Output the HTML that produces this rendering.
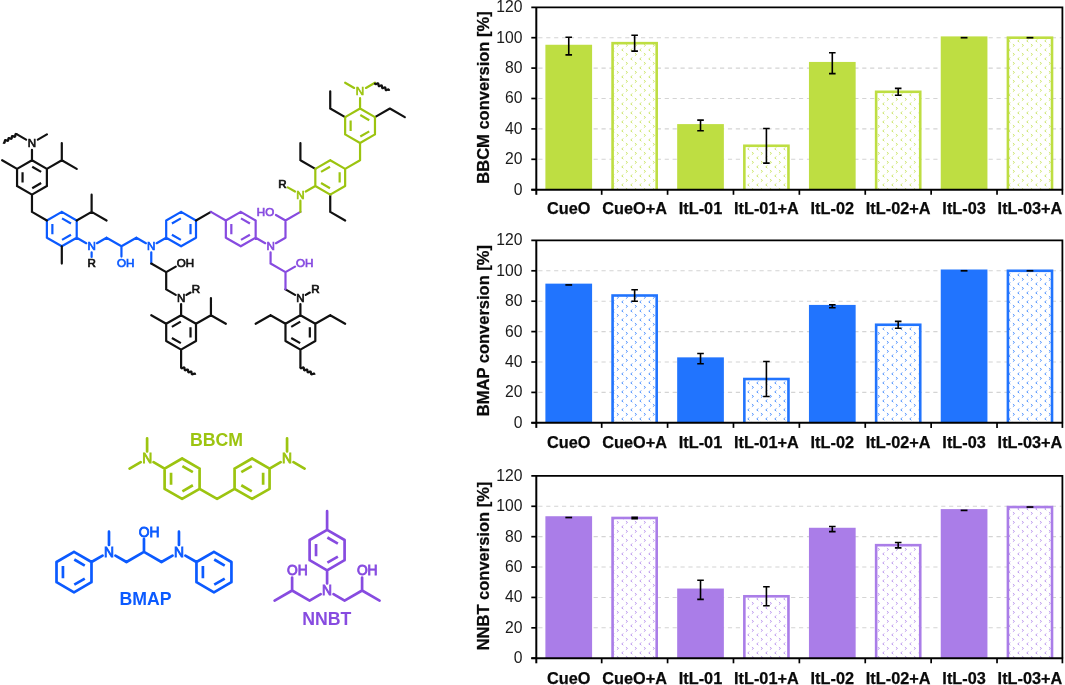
<!DOCTYPE html><html><head><meta charset="utf-8"><style>html,body{margin:0;padding:0;background:#fff}svg{display:block;will-change:transform;font-family:"Liberation Sans",sans-serif}</style></head><body>
<svg width="1065" height="685" viewBox="0 0 1065 685">
<defs><pattern id="pat1" width="9.00" height="9.00" patternUnits="userSpaceOnUse"><rect width="9.00" height="9.00" fill="#fff"/><path d="M2.36 3.60L0.76 4.90L2.36 6.20M11.36 3.60L9.76 4.90L11.36 6.20M4.90 -0.90L6.50 0.40L4.90 1.70M4.90 8.10L6.50 9.40L4.90 10.70" fill="none" stroke="#bede42" stroke-width="0.95" opacity="0.78"/></pattern><pattern id="pat2" width="9.00" height="9.00" patternUnits="userSpaceOnUse"><rect width="9.00" height="9.00" fill="#fff"/><path d="M2.36 3.60L0.76 4.90L2.36 6.20M11.36 3.60L9.76 4.90L11.36 6.20M4.90 -0.90L6.50 0.40L4.90 1.70M4.90 8.10L6.50 9.40L4.90 10.70" fill="none" stroke="#2174fe" stroke-width="0.95" opacity="0.78"/></pattern><pattern id="pat3" width="9.00" height="9.00" patternUnits="userSpaceOnUse"><rect width="9.00" height="9.00" fill="#fff"/><path d="M2.36 3.60L0.76 4.90L2.36 6.20M11.36 3.60L9.76 4.90L11.36 6.20M4.90 -0.90L6.50 0.40L4.90 1.70M4.90 8.10L6.50 9.40L4.90 10.70" fill="none" stroke="#aa7de8" stroke-width="0.95" opacity="0.78"/></pattern></defs>
<rect width="1065" height="685" fill="#fff"/>
<g stroke-width="2.20" stroke-linecap="butt" fill="none">
<path stroke="#0b5aff" stroke-linecap="round" d="M181.10 211.88L196.01 220.49M196.01 220.49L196.01 237.71M196.01 237.71L181.10 246.32M181.10 246.32L166.19 237.71M166.19 237.71L166.19 220.49M166.19 220.49L181.10 211.88M166.19 237.71L156.64 243.22M145.90 243.22L136.36 237.71M136.36 237.71L121.45 246.32M121.45 246.32L106.54 237.71M106.54 237.71L96.99 243.22M121.45 246.32L121.45 256.54M86.25 243.22L76.71 237.71M61.80 211.88L76.71 220.49M76.71 220.49L76.71 237.71M76.71 237.71L61.80 246.32M61.80 246.32L46.88 237.71M46.88 237.71L46.88 220.49M46.88 220.49L61.80 211.88M91.62 252.32L91.62 256.94M151.27 252.32L151.27 263.54"/>
<path stroke="#111111" stroke-linecap="round" d="M61.80 246.32L61.80 263.54M76.71 220.49L91.62 211.88M91.62 211.88L91.62 194.66M91.62 211.88L106.54 220.49M46.88 220.49L31.97 211.88M31.97 211.88L31.97 194.66M31.97 160.22L46.88 168.83M46.88 168.83L46.88 186.05M46.88 186.05L31.97 194.66M31.97 194.66L17.06 186.05M17.06 186.05L17.06 168.83M17.06 168.83L31.97 160.22M17.06 168.83L2.14 160.22M46.88 168.83L61.80 160.22M61.80 160.22L61.80 143.00M61.80 160.22L76.71 168.83M31.97 160.22L31.97 149.80M37.86 139.60L46.88 134.39M26.08 139.60L17.06 134.39M151.27 263.54L166.19 272.15M166.19 272.15L175.73 266.64M166.19 272.15L166.19 289.37M166.19 289.37L175.73 294.88M186.47 294.88L190.47 292.57M181.10 303.98L181.10 315.20M181.10 315.20L196.01 323.81M196.01 323.81L196.01 341.03M196.01 341.03L181.10 349.64M181.10 349.64L166.19 341.03M166.19 341.03L166.19 323.81M166.19 323.81L181.10 315.20M166.19 323.81L151.27 315.20M196.01 323.81L210.93 315.20M210.93 315.20L210.93 297.98M210.93 315.20L225.84 323.81M181.10 349.64L181.10 366.86M196.01 220.49L210.93 211.88M315.32 168.83L300.40 160.22M300.40 160.22L300.40 143.00M330.23 194.66L330.23 211.88M330.23 211.88L345.14 220.49M345.14 117.17L330.23 108.56M330.23 108.56L330.23 91.34M374.97 117.17L389.88 108.56M389.88 108.56L404.79 117.17M285.49 289.37L295.03 294.88M305.77 294.88L309.77 292.57M300.40 303.98L300.40 315.20M300.40 315.20L315.32 323.81M315.32 323.81L315.32 341.03M315.32 341.03L300.40 349.64M300.40 349.64L285.49 341.03M285.49 341.03L285.49 323.81M285.49 323.81L300.40 315.20M285.49 323.81L270.58 315.20M270.58 315.20L255.66 323.81M315.32 323.81L330.23 315.20M330.23 315.20L345.14 323.81M300.40 349.64L300.40 366.86"/>
<path stroke="#874be0" stroke-linecap="round" d="M210.93 211.88L225.84 220.49M240.75 211.88L255.66 220.49M255.66 220.49L255.66 237.71M255.66 237.71L240.75 246.32M240.75 246.32L225.84 237.71M225.84 237.71L225.84 220.49M225.84 220.49L240.75 211.88M255.66 237.71L265.21 243.22M275.95 243.22L285.49 237.71M285.49 237.71L285.49 220.49M285.49 220.49L275.95 214.98M285.49 220.49L300.40 211.88M270.58 252.32L270.58 263.54M270.58 263.54L285.49 272.15M285.49 272.15L295.03 266.64M285.49 272.15L285.49 289.37"/>
<path stroke="#9cc410" stroke-linecap="round" d="M300.40 211.88L300.40 200.66M295.03 191.56L287.70 187.33M305.77 191.56L315.32 186.05M330.23 160.22L345.14 168.83M345.14 168.83L345.14 186.05M345.14 186.05L330.23 194.66M330.23 194.66L315.32 186.05M315.32 186.05L315.32 168.83M315.32 168.83L330.23 160.22M345.14 168.83L360.06 160.22M360.06 160.22L360.06 143.00M360.06 108.56L374.97 117.17M374.97 117.17L374.97 134.39M374.97 134.39L360.06 143.00M360.06 143.00L345.14 134.39M345.14 134.39L345.14 117.17M345.14 117.17L360.06 108.56M360.06 108.56L360.06 98.14M354.17 87.94L345.14 82.73M365.94 87.94L374.97 82.73"/>
<path stroke="#0b5aff" stroke-linecap="butt" d="M190.52 223.93L190.52 234.27M180.86 218.35L171.91 223.52M180.86 239.85L171.91 234.68M52.37 223.93L52.37 234.27M62.03 218.35L70.98 223.52M62.03 239.85L70.98 234.68"/>
<path stroke="#111111" stroke-linecap="butt" d="M22.55 172.27L22.55 182.61M32.21 166.69L41.16 171.86M32.21 188.19L41.16 183.02M190.52 327.25L190.52 337.59M180.86 321.67L171.91 326.84M180.86 343.17L171.91 338.00M309.83 327.25L309.83 337.59M300.17 321.67L291.22 326.84M300.17 343.17L291.22 338.00"/>
<path stroke="#874be0" stroke-linecap="butt" d="M231.33 223.93L231.33 234.27M240.99 218.35L249.94 223.52M240.99 239.85L249.94 234.68"/>
<path stroke="#9cc410" stroke-linecap="butt" d="M339.65 172.27L339.65 182.61M329.99 166.69L321.04 171.86M329.99 188.19L321.04 183.02M350.63 120.61L350.63 130.95M360.29 115.03L369.24 120.20M360.29 136.53L369.24 131.36"/>
</g>
<polyline fill="none" stroke="#111111" stroke-width="2.20" stroke-linejoin="round" points="17.06,134.39 16.41,134.08 15.88,133.97 15.53,134.17 15.36,134.69 15.31,135.40 15.25,136.11 15.08,136.63 14.73,136.83 14.20,136.72 13.55,136.41 12.91,136.11 12.38,135.99 12.03,136.20 11.86,136.71 11.80,137.43 11.74,138.14 11.58,138.65 11.22,138.86 10.69,138.74 10.05,138.44 9.40,138.13 8.87,138.02 8.52,138.22 8.35,138.74 8.30,139.45 8.24,140.16 8.07,140.68 7.72,140.88 7.19,140.77 6.54,140.46 5.90,140.15 5.37,140.04 5.02,140.24 4.85,140.76 4.79,141.47 4.73,142.18 4.57,142.70 4.22,142.90 3.68,142.79 3.04,142.48"/>
<polyline fill="none" stroke="#111111" stroke-width="2.20" stroke-linejoin="round" points="181.10,366.86 181.16,367.57 181.33,368.09 181.68,368.29 182.21,368.18 182.85,367.87 183.50,367.56 184.03,367.45 184.38,367.66 184.55,368.17 184.60,368.88 184.66,369.59 184.83,370.11 185.18,370.31 185.71,370.20 186.36,369.90 187.00,369.59 187.53,369.48 187.88,369.68 188.05,370.20 188.11,370.91 188.17,371.62 188.33,372.14 188.68,372.34 189.22,372.23 189.86,371.92 190.51,371.61 191.04,371.50 191.39,371.70 191.56,372.22 191.61,372.93 191.67,373.64 191.84,374.16 192.19,374.36 192.72,374.25 193.37,373.94 194.01,373.64 194.54,373.52 194.89,373.73 195.06,374.24 195.12,374.95"/>
<polyline fill="none" stroke="#111111" stroke-width="2.20" stroke-linejoin="round" points="374.97,82.73 375.03,83.44 375.19,83.96 375.54,84.16 376.08,84.05 376.72,83.74 377.37,83.43 377.90,83.32 378.25,83.53 378.42,84.04 378.47,84.75 378.53,85.46 378.70,85.98 379.05,86.18 379.58,86.07 380.23,85.77 380.87,85.46 381.40,85.35 381.75,85.55 381.92,86.07 381.98,86.78 382.03,87.49 382.20,88.01 382.55,88.21 383.09,88.10 383.73,87.79 384.37,87.48 384.91,87.37 385.26,87.57 385.43,88.09 385.48,88.80 385.54,89.51 385.71,90.03 386.06,90.23 386.59,90.12 387.23,89.81 387.88,89.51 388.41,89.39 388.76,89.60 388.93,90.11 388.99,90.82"/>
<polyline fill="none" stroke="#111111" stroke-width="2.20" stroke-linejoin="round" points="300.40,366.86 300.46,367.57 300.63,368.09 300.98,368.29 301.51,368.18 302.16,367.87 302.80,367.56 303.33,367.45 303.68,367.66 303.85,368.17 303.91,368.88 303.96,369.59 304.13,370.11 304.48,370.31 305.02,370.20 305.66,369.90 306.30,369.59 306.84,369.48 307.19,369.68 307.36,370.20 307.41,370.91 307.47,371.62 307.64,372.14 307.99,372.34 308.52,372.23 309.17,371.92 309.81,371.61 310.34,371.50 310.69,371.70 310.86,372.22 310.92,372.93 310.97,373.64 311.14,374.16 311.49,374.36 312.03,374.25 312.67,373.94 313.31,373.64 313.85,373.52 314.20,373.73 314.37,374.24 314.42,374.95"/>
<text x="31.97" y="147.15" fill="#111111" stroke="#111111" stroke-width="0.70" font-size="11.60" text-anchor="middle">N</text>
<text x="91.62" y="250.47" fill="#0b5aff" stroke="#0b5aff" stroke-width="0.70" font-size="11.60" text-anchor="middle">N</text>
<text x="151.27" y="250.47" fill="#0b5aff" stroke="#0b5aff" stroke-width="0.70" font-size="11.60" text-anchor="middle">N</text>
<text x="181.10" y="302.13" fill="#111111" stroke="#111111" stroke-width="0.70" font-size="11.60" text-anchor="middle">N</text>
<text x="300.40" y="302.13" fill="#111111" stroke="#111111" stroke-width="0.70" font-size="11.60" text-anchor="middle">N</text>
<text x="270.58" y="250.47" fill="#874be0" stroke="#874be0" stroke-width="0.70" font-size="11.60" text-anchor="middle">N</text>
<text x="300.40" y="198.81" fill="#9cc410" stroke="#9cc410" stroke-width="0.70" font-size="11.60" text-anchor="middle">N</text>
<text x="360.06" y="95.49" fill="#9cc410" stroke="#9cc410" stroke-width="0.70" font-size="11.60" text-anchor="middle">N</text>
<text x="91.62" y="266.89" fill="#111111" stroke="#111111" stroke-width="0.70" font-size="11.60" text-anchor="middle">R</text>
<text x="196.01" y="292.72" fill="#111111" stroke="#111111" stroke-width="0.70" font-size="11.60" text-anchor="middle">R</text>
<text x="315.32" y="292.72" fill="#111111" stroke="#111111" stroke-width="0.70" font-size="11.60" text-anchor="middle">R</text>
<text x="282.51" y="188.48" fill="#111111" stroke="#111111" stroke-width="0.70" font-size="11.60" text-anchor="middle">R</text>
<text x="117.05" y="266.89" fill="#0b5aff" stroke="#0b5aff" stroke-width="0.70" font-size="11.60" text-anchor="start">OH</text>
<text x="176.70" y="266.89" fill="#111111" stroke="#111111" stroke-width="0.70" font-size="11.60" text-anchor="start">OH</text>
<text x="296.00" y="266.89" fill="#874be0" stroke="#874be0" stroke-width="0.70" font-size="11.60" text-anchor="start">OH</text>
<text x="274.18" y="216.03" fill="#874be0" stroke="#874be0" stroke-width="0.70" font-size="11.60" text-anchor="end">HO</text>
<g stroke-width="2.70" stroke-linecap="butt" fill="none">
<path stroke="#9cc410" stroke-linecap="round" d="M182.10 458.50L199.59 468.60M199.59 468.60L199.59 488.80M199.59 488.80L182.10 498.90M182.10 498.90L164.61 488.80M164.61 488.80L164.61 468.60M164.61 468.60L182.10 458.50M164.61 468.60L153.52 462.20M147.11 451.50L147.11 438.30M140.70 462.20L129.62 468.60M199.59 488.80L217.09 498.90M217.09 498.90L234.58 488.80M252.07 458.50L269.57 468.60M269.57 468.60L269.57 488.80M269.57 488.80L252.07 498.90M252.07 498.90L234.58 488.80M234.58 488.80L234.58 468.60M234.58 468.60L252.07 458.50M269.57 468.60L280.65 462.20M287.06 451.50L287.06 438.30M293.47 462.20L304.56 468.60"/>
<path stroke="#9cc410" stroke-linecap="butt" d="M171.04 472.64L171.04 484.76M182.38 466.10L192.88 472.16M182.38 491.30L192.88 485.24M263.13 472.64L263.13 484.76M251.79 466.10L241.30 472.16M251.79 491.30L241.30 485.24"/>
</g>
<text x="147.11" y="463.44" fill="#9cc410" stroke="#9cc410" stroke-width="0.83" font-size="13.80" text-anchor="middle">N</text>
<text x="287.06" y="463.44" fill="#9cc410" stroke="#9cc410" stroke-width="0.83" font-size="13.80" text-anchor="middle">N</text>
<g stroke-width="2.70" stroke-linecap="butt" fill="none">
<path stroke="#0b5aff" stroke-linecap="round" d="M74.00 551.90L91.49 562.00M91.49 562.00L91.49 582.20M91.49 582.20L74.00 592.30M74.00 592.30L56.51 582.20M56.51 582.20L56.51 562.00M56.51 562.00L74.00 551.90M91.49 562.00L102.58 555.60M108.99 544.90L108.99 531.70M115.40 555.60L126.48 562.00M126.48 562.00L143.97 551.90M143.97 551.90L143.97 538.90M143.97 551.90L161.47 562.00M161.47 562.00L172.55 555.60M178.96 544.90L178.96 531.70M185.37 555.60L196.46 562.00M213.95 551.90L231.44 562.00M231.44 562.00L231.44 582.20M231.44 582.20L213.95 592.30M213.95 592.30L196.46 582.20M196.46 582.20L196.46 562.00M196.46 562.00L213.95 551.90"/>
<path stroke="#0b5aff" stroke-linecap="butt" d="M62.94 566.04L62.94 578.16M74.28 559.50L84.78 565.56M74.28 584.70L84.78 578.64M202.89 566.04L202.89 578.16M214.23 559.50L224.73 565.56M214.23 584.70L224.73 578.64"/>
</g>
<text x="108.99" y="556.84" fill="#0b5aff" stroke="#0b5aff" stroke-width="0.83" font-size="13.80" text-anchor="middle">N</text>
<text x="178.96" y="556.84" fill="#0b5aff" stroke="#0b5aff" stroke-width="0.83" font-size="13.80" text-anchor="middle">N</text>
<text x="138.77" y="536.64" fill="#0b5aff" stroke="#0b5aff" stroke-width="0.83" font-size="13.80" text-anchor="start">OH</text>
<g stroke-width="2.70" stroke-linecap="butt" fill="none">
<path stroke="#874be0" stroke-linecap="round" d="M327.10 529.90L344.59 540.00M344.59 540.00L344.59 560.20M344.59 560.20L327.10 570.30M327.10 570.30L309.61 560.20M309.61 560.20L309.61 540.00M309.61 540.00L327.10 529.90M327.10 529.90L327.10 511.20M327.10 570.30L327.10 583.50M320.69 594.20L309.61 600.60M309.61 600.60L292.11 590.50M292.11 590.50L274.62 600.60M292.11 590.50L292.11 577.50M333.51 594.20L344.59 600.60M344.59 600.60L362.09 590.50M362.09 590.50L379.58 600.60M362.09 590.50L362.09 577.50"/>
<path stroke="#874be0" stroke-linecap="butt" d="M316.04 544.04L316.04 556.16M327.38 537.50L337.88 543.56M327.38 562.70L337.88 556.64"/>
</g>
<text x="327.10" y="595.44" fill="#874be0" stroke="#874be0" stroke-width="0.83" font-size="13.80" text-anchor="middle">N</text>
<text x="286.91" y="575.24" fill="#874be0" stroke="#874be0" stroke-width="0.83" font-size="13.80" text-anchor="start">OH</text>
<text x="356.89" y="575.24" fill="#874be0" stroke="#874be0" stroke-width="0.83" font-size="13.80" text-anchor="start">OH</text>
<text x="216.5" y="445.9" font-size="17.7" font-weight="bold" text-anchor="middle" fill="#9cc410">BBCM</text>
<text x="145.5" y="604.5" font-size="17.7" font-weight="bold" text-anchor="middle" fill="#0b5aff">BMAP</text>
<text x="326.8" y="625.4" font-size="17.7" font-weight="bold" text-anchor="middle" fill="#874be0">NNBT</text>
<line x1="538.3" x2="1061.4" y1="159.30" y2="159.30" stroke="#d4d4d4" stroke-width="1.1" stroke-dasharray="4.2 3.7"/>
<line x1="538.3" x2="1061.4" y1="128.90" y2="128.90" stroke="#d4d4d4" stroke-width="1.1" stroke-dasharray="4.2 3.7"/>
<line x1="538.3" x2="1061.4" y1="98.50" y2="98.50" stroke="#d4d4d4" stroke-width="1.1" stroke-dasharray="4.2 3.7"/>
<line x1="538.3" x2="1061.4" y1="68.10" y2="68.10" stroke="#d4d4d4" stroke-width="1.1" stroke-dasharray="4.2 3.7"/>
<line x1="538.3" x2="1061.4" y1="37.70" y2="37.70" stroke="#d4d4d4" stroke-width="1.1" stroke-dasharray="4.2 3.7"/>
<clipPath id="cp1"><rect x="536.30" y="7.30" width="526.10" height="182.40"/></clipPath><g clip-path="url(#cp1)">
<rect x="545.39" y="44.76" width="46.70" height="144.94" fill="#bede42"/>
<rect x="612.58" y="43.17" width="44.10" height="148.53" fill="url(#pat1)" stroke="#bede42" stroke-width="2.6"/>
<rect x="677.17" y="124.10" width="46.70" height="65.60" fill="#bede42"/>
<rect x="744.36" y="145.77" width="44.10" height="45.93" fill="url(#pat1)" stroke="#bede42" stroke-width="2.6"/>
<rect x="808.95" y="61.94" width="46.70" height="127.76" fill="#bede42"/>
<rect x="876.14" y="91.81" width="44.10" height="99.89" fill="url(#pat1)" stroke="#bede42" stroke-width="2.6"/>
<rect x="940.74" y="36.40" width="46.70" height="153.30" fill="#bede42"/>
<rect x="1007.92" y="37.70" width="44.10" height="154.00" fill="url(#pat1)" stroke="#bede42" stroke-width="2.6"/>
</g>
<path d="M531.30 7.30H1062.40V189.70" fill="none" stroke="#000" stroke-width="1.8"/>
<path d="M536.30 7.30V194.80" fill="none" stroke="#000" stroke-width="2"/>
<path d="M531.30 189.70H1063.10" fill="none" stroke="#000" stroke-width="2"/>
<line x1="531.3" x2="536.3" y1="189.70" y2="189.70" stroke="#000" stroke-width="1.7"/>
<line x1="531.3" x2="536.3" y1="159.30" y2="159.30" stroke="#000" stroke-width="1.7"/>
<line x1="531.3" x2="536.3" y1="128.90" y2="128.90" stroke="#000" stroke-width="1.7"/>
<line x1="531.3" x2="536.3" y1="98.50" y2="98.50" stroke="#000" stroke-width="1.7"/>
<line x1="531.3" x2="536.3" y1="68.10" y2="68.10" stroke="#000" stroke-width="1.7"/>
<line x1="531.3" x2="536.3" y1="37.70" y2="37.70" stroke="#000" stroke-width="1.7"/>
<line x1="601.69" x2="601.69" y1="189.70" y2="194.80" stroke="#000" stroke-width="1.7"/>
<line x1="667.58" x2="667.58" y1="189.70" y2="194.80" stroke="#000" stroke-width="1.7"/>
<line x1="733.47" x2="733.47" y1="189.70" y2="194.80" stroke="#000" stroke-width="1.7"/>
<line x1="799.36" x2="799.36" y1="189.70" y2="194.80" stroke="#000" stroke-width="1.7"/>
<line x1="865.25" x2="865.25" y1="189.70" y2="194.80" stroke="#000" stroke-width="1.7"/>
<line x1="931.14" x2="931.14" y1="189.70" y2="194.80" stroke="#000" stroke-width="1.7"/>
<line x1="997.03" x2="997.03" y1="189.70" y2="194.80" stroke="#000" stroke-width="1.7"/>
<line x1="1062.40" x2="1062.40" y1="189.70" y2="194.80" stroke="#000" stroke-width="1.7"/>
<path d="M568.75 37.24V54.88M565.45 37.24H572.04M565.45 54.88H572.04" fill="none" stroke="#000" stroke-width="1.6"/>
<path d="M634.63 35.27V51.08M631.34 35.27H637.93M631.34 51.08H637.93" fill="none" stroke="#000" stroke-width="1.6"/>
<path d="M700.52 120.08V130.72M697.23 120.08H703.82M697.23 130.72H703.82" fill="none" stroke="#000" stroke-width="1.6"/>
<path d="M766.41 128.44V163.10M763.12 128.44H769.71M763.12 163.10H769.71" fill="none" stroke="#000" stroke-width="1.6"/>
<path d="M832.30 52.82V73.65M829.00 52.82H835.60M829.00 73.65H835.60" fill="none" stroke="#000" stroke-width="1.6"/>
<path d="M898.19 88.39V95.23M894.89 88.39H901.49M894.89 95.23H901.49" fill="none" stroke="#000" stroke-width="1.6"/>
<path d="M960.69 37.70H967.49" fill="none" stroke="#000" stroke-width="1.7"/>
<path d="M1026.57 37.70H1033.38" fill="none" stroke="#000" stroke-width="1.7"/>
<text x="522.5" y="194.60" font-size="15.7" text-anchor="end" fill="#1a1a1a">0</text>
<text x="522.5" y="164.20" font-size="15.7" text-anchor="end" fill="#1a1a1a">20</text>
<text x="522.5" y="133.80" font-size="15.7" text-anchor="end" fill="#1a1a1a">40</text>
<text x="522.5" y="103.40" font-size="15.7" text-anchor="end" fill="#1a1a1a">60</text>
<text x="522.5" y="73.00" font-size="15.7" text-anchor="end" fill="#1a1a1a">80</text>
<text x="522.5" y="42.60" font-size="15.7" text-anchor="end" fill="#1a1a1a">100</text>
<text x="522.5" y="12.20" font-size="15.7" text-anchor="end" fill="#1a1a1a">120</text>
<text x="568.75" y="213.70" font-size="16.3" font-weight="bold" text-anchor="middle" fill="#0a0a0a" stroke="#0a0a0a" stroke-width="0.25">CueO</text>
<text x="634.63" y="213.70" font-size="16.3" font-weight="bold" text-anchor="middle" fill="#0a0a0a" stroke="#0a0a0a" stroke-width="0.25">CueO+A</text>
<text x="700.52" y="213.70" font-size="16.3" font-weight="bold" text-anchor="middle" fill="#0a0a0a" stroke="#0a0a0a" stroke-width="0.25">ItL-01</text>
<text x="766.41" y="213.70" font-size="16.3" font-weight="bold" text-anchor="middle" fill="#0a0a0a" stroke="#0a0a0a" stroke-width="0.25">ItL-01+A</text>
<text x="832.30" y="213.70" font-size="16.3" font-weight="bold" text-anchor="middle" fill="#0a0a0a" stroke="#0a0a0a" stroke-width="0.25">ItL-02</text>
<text x="898.19" y="213.70" font-size="16.3" font-weight="bold" text-anchor="middle" fill="#0a0a0a" stroke="#0a0a0a" stroke-width="0.25">ItL-02+A</text>
<text x="964.09" y="213.70" font-size="16.3" font-weight="bold" text-anchor="middle" fill="#0a0a0a" stroke="#0a0a0a" stroke-width="0.25">ItL-03</text>
<text x="1029.97" y="213.70" font-size="16.3" font-weight="bold" text-anchor="middle" fill="#0a0a0a" stroke="#0a0a0a" stroke-width="0.25">ItL-03+A</text>
<text transform="translate(488.5 97.5) rotate(-90)" font-size="16.5" font-weight="bold" text-anchor="middle" fill="#0a0a0a" stroke="#0a0a0a" stroke-width="0.25">BBCM conversion [%]</text>
<line x1="538.3" x2="1061.4" y1="392.40" y2="392.40" stroke="#d4d4d4" stroke-width="1.1" stroke-dasharray="4.2 3.7"/>
<line x1="538.3" x2="1061.4" y1="362.00" y2="362.00" stroke="#d4d4d4" stroke-width="1.1" stroke-dasharray="4.2 3.7"/>
<line x1="538.3" x2="1061.4" y1="331.60" y2="331.60" stroke="#d4d4d4" stroke-width="1.1" stroke-dasharray="4.2 3.7"/>
<line x1="538.3" x2="1061.4" y1="301.20" y2="301.20" stroke="#d4d4d4" stroke-width="1.1" stroke-dasharray="4.2 3.7"/>
<line x1="538.3" x2="1061.4" y1="270.80" y2="270.80" stroke="#d4d4d4" stroke-width="1.1" stroke-dasharray="4.2 3.7"/>
<clipPath id="cp2"><rect x="536.30" y="240.40" width="526.10" height="182.40"/></clipPath><g clip-path="url(#cp2)">
<rect x="545.39" y="283.64" width="46.70" height="139.16" fill="#2174fe"/>
<rect x="612.58" y="295.50" width="44.10" height="129.30" fill="url(#pat2)" stroke="#2174fe" stroke-width="2.6"/>
<rect x="677.17" y="357.36" width="46.70" height="65.44" fill="#2174fe"/>
<rect x="744.36" y="379.02" width="44.10" height="45.78" fill="url(#pat2)" stroke="#2174fe" stroke-width="2.6"/>
<rect x="808.95" y="304.92" width="46.70" height="117.88" fill="#2174fe"/>
<rect x="876.14" y="324.76" width="44.10" height="100.04" fill="url(#pat2)" stroke="#2174fe" stroke-width="2.6"/>
<rect x="940.74" y="269.50" width="46.70" height="153.30" fill="#2174fe"/>
<rect x="1007.92" y="270.80" width="44.10" height="154.00" fill="url(#pat2)" stroke="#2174fe" stroke-width="2.6"/>
</g>
<path d="M531.30 240.40H1062.40V422.80" fill="none" stroke="#000" stroke-width="1.8"/>
<path d="M536.30 240.40V427.90" fill="none" stroke="#000" stroke-width="2"/>
<path d="M531.30 422.80H1063.10" fill="none" stroke="#000" stroke-width="2"/>
<line x1="531.3" x2="536.3" y1="422.80" y2="422.80" stroke="#000" stroke-width="1.7"/>
<line x1="531.3" x2="536.3" y1="392.40" y2="392.40" stroke="#000" stroke-width="1.7"/>
<line x1="531.3" x2="536.3" y1="362.00" y2="362.00" stroke="#000" stroke-width="1.7"/>
<line x1="531.3" x2="536.3" y1="331.60" y2="331.60" stroke="#000" stroke-width="1.7"/>
<line x1="531.3" x2="536.3" y1="301.20" y2="301.20" stroke="#000" stroke-width="1.7"/>
<line x1="531.3" x2="536.3" y1="270.80" y2="270.80" stroke="#000" stroke-width="1.7"/>
<line x1="601.69" x2="601.69" y1="422.80" y2="427.90" stroke="#000" stroke-width="1.7"/>
<line x1="667.58" x2="667.58" y1="422.80" y2="427.90" stroke="#000" stroke-width="1.7"/>
<line x1="733.47" x2="733.47" y1="422.80" y2="427.90" stroke="#000" stroke-width="1.7"/>
<line x1="799.36" x2="799.36" y1="422.80" y2="427.90" stroke="#000" stroke-width="1.7"/>
<line x1="865.25" x2="865.25" y1="422.80" y2="427.90" stroke="#000" stroke-width="1.7"/>
<line x1="931.14" x2="931.14" y1="422.80" y2="427.90" stroke="#000" stroke-width="1.7"/>
<line x1="997.03" x2="997.03" y1="422.80" y2="427.90" stroke="#000" stroke-width="1.7"/>
<line x1="1062.40" x2="1062.40" y1="422.80" y2="427.90" stroke="#000" stroke-width="1.7"/>
<path d="M565.35 284.94H572.14" fill="none" stroke="#000" stroke-width="1.7"/>
<path d="M634.63 289.80V301.20M631.34 289.80H637.93M631.34 301.20H637.93" fill="none" stroke="#000" stroke-width="1.6"/>
<path d="M700.52 353.56V363.75M697.23 353.56H703.82M697.23 363.75H703.82" fill="none" stroke="#000" stroke-width="1.6"/>
<path d="M766.41 361.54V396.50M763.12 361.54H769.71M763.12 396.50H769.71" fill="none" stroke="#000" stroke-width="1.6"/>
<path d="M832.30 304.70V307.74M829.00 304.70H835.60M829.00 307.74H835.60" fill="none" stroke="#000" stroke-width="1.6"/>
<path d="M898.19 321.34V328.18M894.89 321.34H901.49M894.89 328.18H901.49" fill="none" stroke="#000" stroke-width="1.6"/>
<path d="M960.69 270.80H967.49" fill="none" stroke="#000" stroke-width="1.7"/>
<path d="M1026.57 270.80H1033.38" fill="none" stroke="#000" stroke-width="1.7"/>
<text x="522.5" y="427.70" font-size="15.7" text-anchor="end" fill="#1a1a1a">0</text>
<text x="522.5" y="397.30" font-size="15.7" text-anchor="end" fill="#1a1a1a">20</text>
<text x="522.5" y="366.90" font-size="15.7" text-anchor="end" fill="#1a1a1a">40</text>
<text x="522.5" y="336.50" font-size="15.7" text-anchor="end" fill="#1a1a1a">60</text>
<text x="522.5" y="306.10" font-size="15.7" text-anchor="end" fill="#1a1a1a">80</text>
<text x="522.5" y="275.70" font-size="15.7" text-anchor="end" fill="#1a1a1a">100</text>
<text x="522.5" y="245.30" font-size="15.7" text-anchor="end" fill="#1a1a1a">120</text>
<text x="568.75" y="447.50" font-size="16.3" font-weight="bold" text-anchor="middle" fill="#0a0a0a" stroke="#0a0a0a" stroke-width="0.25">CueO</text>
<text x="634.63" y="447.50" font-size="16.3" font-weight="bold" text-anchor="middle" fill="#0a0a0a" stroke="#0a0a0a" stroke-width="0.25">CueO+A</text>
<text x="700.52" y="447.50" font-size="16.3" font-weight="bold" text-anchor="middle" fill="#0a0a0a" stroke="#0a0a0a" stroke-width="0.25">ItL-01</text>
<text x="766.41" y="447.50" font-size="16.3" font-weight="bold" text-anchor="middle" fill="#0a0a0a" stroke="#0a0a0a" stroke-width="0.25">ItL-01+A</text>
<text x="832.30" y="447.50" font-size="16.3" font-weight="bold" text-anchor="middle" fill="#0a0a0a" stroke="#0a0a0a" stroke-width="0.25">ItL-02</text>
<text x="898.19" y="447.50" font-size="16.3" font-weight="bold" text-anchor="middle" fill="#0a0a0a" stroke="#0a0a0a" stroke-width="0.25">ItL-02+A</text>
<text x="964.09" y="447.50" font-size="16.3" font-weight="bold" text-anchor="middle" fill="#0a0a0a" stroke="#0a0a0a" stroke-width="0.25">ItL-03</text>
<text x="1029.97" y="447.50" font-size="16.3" font-weight="bold" text-anchor="middle" fill="#0a0a0a" stroke="#0a0a0a" stroke-width="0.25">ItL-03+A</text>
<text transform="translate(488.5 330.6) rotate(-90)" font-size="16.5" font-weight="bold" text-anchor="middle" fill="#0a0a0a" stroke="#0a0a0a" stroke-width="0.25">BMAP conversion [%]</text>
<line x1="538.3" x2="1061.4" y1="627.82" y2="627.82" stroke="#d4d4d4" stroke-width="1.1" stroke-dasharray="4.2 3.7"/>
<line x1="538.3" x2="1061.4" y1="597.43" y2="597.43" stroke="#d4d4d4" stroke-width="1.1" stroke-dasharray="4.2 3.7"/>
<line x1="538.3" x2="1061.4" y1="567.05" y2="567.05" stroke="#d4d4d4" stroke-width="1.1" stroke-dasharray="4.2 3.7"/>
<line x1="538.3" x2="1061.4" y1="536.67" y2="536.67" stroke="#d4d4d4" stroke-width="1.1" stroke-dasharray="4.2 3.7"/>
<line x1="538.3" x2="1061.4" y1="506.28" y2="506.28" stroke="#d4d4d4" stroke-width="1.1" stroke-dasharray="4.2 3.7"/>
<clipPath id="cp3"><rect x="536.30" y="475.90" width="526.10" height="182.30"/></clipPath><g clip-path="url(#cp3)">
<rect x="545.39" y="516.23" width="46.70" height="141.97" fill="#aa7de8"/>
<rect x="612.58" y="517.98" width="44.10" height="142.22" fill="url(#pat3)" stroke="#aa7de8" stroke-width="2.6"/>
<rect x="677.17" y="588.54" width="46.70" height="69.66" fill="#aa7de8"/>
<rect x="744.36" y="596.29" width="44.10" height="63.91" fill="url(#pat3)" stroke="#aa7de8" stroke-width="2.6"/>
<rect x="808.95" y="527.77" width="46.70" height="130.43" fill="#aa7de8"/>
<rect x="876.14" y="545.17" width="44.10" height="115.03" fill="url(#pat3)" stroke="#aa7de8" stroke-width="2.6"/>
<rect x="940.74" y="509.09" width="46.70" height="149.11" fill="#aa7de8"/>
<rect x="1007.92" y="507.04" width="44.10" height="153.16" fill="url(#pat3)" stroke="#aa7de8" stroke-width="2.6"/>
</g>
<path d="M531.30 475.90H1062.40V658.20" fill="none" stroke="#000" stroke-width="1.8"/>
<path d="M536.30 475.90V663.30" fill="none" stroke="#000" stroke-width="2"/>
<path d="M531.30 658.20H1063.10" fill="none" stroke="#000" stroke-width="2"/>
<line x1="531.3" x2="536.3" y1="658.20" y2="658.20" stroke="#000" stroke-width="1.7"/>
<line x1="531.3" x2="536.3" y1="627.82" y2="627.82" stroke="#000" stroke-width="1.7"/>
<line x1="531.3" x2="536.3" y1="597.43" y2="597.43" stroke="#000" stroke-width="1.7"/>
<line x1="531.3" x2="536.3" y1="567.05" y2="567.05" stroke="#000" stroke-width="1.7"/>
<line x1="531.3" x2="536.3" y1="536.67" y2="536.67" stroke="#000" stroke-width="1.7"/>
<line x1="531.3" x2="536.3" y1="506.28" y2="506.28" stroke="#000" stroke-width="1.7"/>
<line x1="601.69" x2="601.69" y1="658.20" y2="663.30" stroke="#000" stroke-width="1.7"/>
<line x1="667.58" x2="667.58" y1="658.20" y2="663.30" stroke="#000" stroke-width="1.7"/>
<line x1="733.47" x2="733.47" y1="658.20" y2="663.30" stroke="#000" stroke-width="1.7"/>
<line x1="799.36" x2="799.36" y1="658.20" y2="663.30" stroke="#000" stroke-width="1.7"/>
<line x1="865.25" x2="865.25" y1="658.20" y2="663.30" stroke="#000" stroke-width="1.7"/>
<line x1="931.14" x2="931.14" y1="658.20" y2="663.30" stroke="#000" stroke-width="1.7"/>
<line x1="997.03" x2="997.03" y1="658.20" y2="663.30" stroke="#000" stroke-width="1.7"/>
<line x1="1062.40" x2="1062.40" y1="658.20" y2="663.30" stroke="#000" stroke-width="1.7"/>
<path d="M565.35 517.53H572.14" fill="none" stroke="#000" stroke-width="1.7"/>
<path d="M634.63 517.37V518.59M631.34 517.37H637.93M631.34 518.59H637.93" fill="none" stroke="#000" stroke-width="1.6"/>
<path d="M700.52 580.27V599.41M697.23 580.27H703.82M697.23 599.41H703.82" fill="none" stroke="#000" stroke-width="1.6"/>
<path d="M766.41 586.80V605.79M763.12 586.80H769.71M763.12 605.79H769.71" fill="none" stroke="#000" stroke-width="1.6"/>
<path d="M832.30 526.49V531.65M829.00 526.49H835.60M829.00 531.65H835.60" fill="none" stroke="#000" stroke-width="1.6"/>
<path d="M898.19 542.52V547.83M894.89 542.52H901.49M894.89 547.83H901.49" fill="none" stroke="#000" stroke-width="1.6"/>
<path d="M960.69 510.39H967.49" fill="none" stroke="#000" stroke-width="1.7"/>
<path d="M1026.57 507.04H1033.38" fill="none" stroke="#000" stroke-width="1.7"/>
<text x="522.5" y="663.10" font-size="15.7" text-anchor="end" fill="#1a1a1a">0</text>
<text x="522.5" y="632.72" font-size="15.7" text-anchor="end" fill="#1a1a1a">20</text>
<text x="522.5" y="602.33" font-size="15.7" text-anchor="end" fill="#1a1a1a">40</text>
<text x="522.5" y="571.95" font-size="15.7" text-anchor="end" fill="#1a1a1a">60</text>
<text x="522.5" y="541.57" font-size="15.7" text-anchor="end" fill="#1a1a1a">80</text>
<text x="522.5" y="511.18" font-size="15.7" text-anchor="end" fill="#1a1a1a">100</text>
<text x="522.5" y="480.80" font-size="15.7" text-anchor="end" fill="#1a1a1a">120</text>
<text x="568.75" y="683.50" font-size="16.3" font-weight="bold" text-anchor="middle" fill="#0a0a0a" stroke="#0a0a0a" stroke-width="0.25">CueO</text>
<text x="634.63" y="683.50" font-size="16.3" font-weight="bold" text-anchor="middle" fill="#0a0a0a" stroke="#0a0a0a" stroke-width="0.25">CueO+A</text>
<text x="700.52" y="683.50" font-size="16.3" font-weight="bold" text-anchor="middle" fill="#0a0a0a" stroke="#0a0a0a" stroke-width="0.25">ItL-01</text>
<text x="766.41" y="683.50" font-size="16.3" font-weight="bold" text-anchor="middle" fill="#0a0a0a" stroke="#0a0a0a" stroke-width="0.25">ItL-01+A</text>
<text x="832.30" y="683.50" font-size="16.3" font-weight="bold" text-anchor="middle" fill="#0a0a0a" stroke="#0a0a0a" stroke-width="0.25">ItL-02</text>
<text x="898.19" y="683.50" font-size="16.3" font-weight="bold" text-anchor="middle" fill="#0a0a0a" stroke="#0a0a0a" stroke-width="0.25">ItL-02+A</text>
<text x="964.09" y="683.50" font-size="16.3" font-weight="bold" text-anchor="middle" fill="#0a0a0a" stroke="#0a0a0a" stroke-width="0.25">ItL-03</text>
<text x="1029.97" y="683.50" font-size="16.3" font-weight="bold" text-anchor="middle" fill="#0a0a0a" stroke="#0a0a0a" stroke-width="0.25">ItL-03+A</text>
<text transform="translate(488.5 566.0) rotate(-90)" font-size="16.5" font-weight="bold" text-anchor="middle" fill="#0a0a0a" stroke="#0a0a0a" stroke-width="0.25">NNBT conversion [%]</text>
</svg></body></html>
